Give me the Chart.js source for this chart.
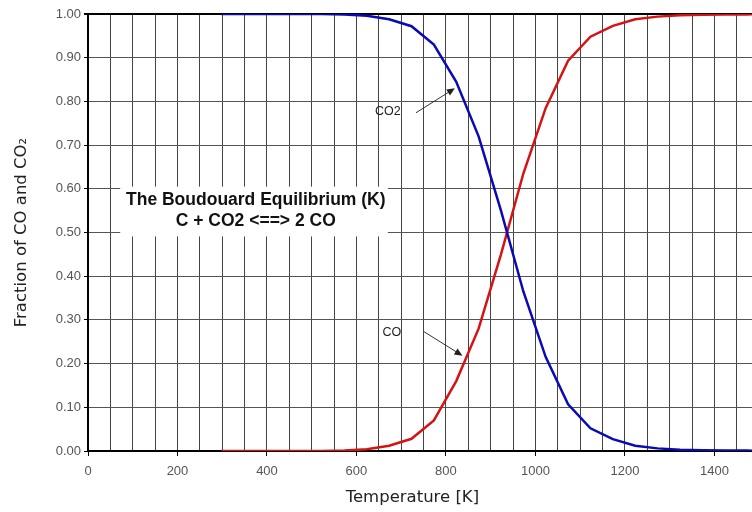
<!DOCTYPE html>
<html>
<head>
<meta charset="utf-8">
<script src="https://cdn.jsdelivr.net/npm/chart.js@4"></script>
<style>
  body { margin: 0; background: #fff; }
  canvas { display: block; }
</style>
</head>
<body>
<canvas id="boudouardChart" width="752" height="512"></canvas>
<script>
// Temperaturas em K (25 °C e depois de 50 em 50 °C)
const temperaturas = [298, 323, 373, 423, 473, 523, 573, 623, 673, 723, 773, 823, 873,
  923, 973, 1023, 1073, 1123, 1173, 1223, 1273, 1323, 1373, 1423, 1473, 1523];

// Fração de CO2 e de CO em equilíbrio
const fracaoCO2 = [1, 1, 1, 1, 1, 1, 0.999, 0.996, 0.988, 0.972, 0.93, 0.845, 0.72,
  0.55, 0.365, 0.215, 0.107, 0.052, 0.027, 0.012, 0.006, 0.003, 0.002, 0.001, 0.001, 0];
const fracaoCO = [0, 0, 0, 0, 0, 0, 0.001, 0.004, 0.012, 0.028, 0.07, 0.16, 0.28,
  0.45, 0.635, 0.785, 0.893, 0.948, 0.973, 0.988, 0.994, 0.997, 0.998, 0.999, 0.999, 1];

const ticksY = [0, 0.1, 0.2, 0.3, 0.4, 0.5, 0.6, 0.7, 0.8, 0.9, 1.0];

const pontos = serie => temperaturas.map((t, i) => ({ x: t, y: serie[i] }));

// seta fina com ponta cheia
function seta(ctx, x0, y0, x1, y1) {
  const ang = Math.atan2(y1 - y0, x1 - x0);
  ctx.strokeStyle = '#333';
  ctx.fillStyle = '#222';
  ctx.lineWidth = 1;
  ctx.beginPath();
  ctx.moveTo(x0, y0);
  ctx.lineTo(x1 - 6 * Math.cos(ang), y1 - 6 * Math.sin(ang));
  ctx.stroke();
  ctx.beginPath();
  ctx.moveTo(x1, y1);
  ctx.lineTo(x1 - 8 * Math.cos(ang) + 3.5 * Math.sin(ang), y1 - 8 * Math.sin(ang) - 3.5 * Math.cos(ang));
  ctx.lineTo(x1 - 8 * Math.cos(ang) - 3.5 * Math.sin(ang), y1 - 8 * Math.sin(ang) + 3.5 * Math.cos(ang));
  ctx.closePath();
  ctx.fill();
}

// caixa com o título, rótulos das curvas e título do eixo x
const anotacoes = {
  id: 'anotacoes',
  afterDraw(chart) {
    const { ctx, scales: { x, y } } = chart;
    ctx.save();

    const bx1 = x.getPixelForValue(72), bx2 = x.getPixelForValue(670);
    const by1 = y.getPixelForValue(0.605), by2 = y.getPixelForValue(0.491);
    ctx.fillStyle = '#fff';
    ctx.fillRect(bx1, by1, bx2 - bx1, by2 - by1);

    ctx.fillStyle = '#111';
    ctx.font = 'bold 17.5px "Liberation Sans"';
    ctx.textAlign = 'center';
    ctx.textBaseline = 'middle';
    const cx = x.getPixelForValue(375);
    ctx.fillText('The Boudouard Equilibrium (K)', cx, y.getPixelForValue(0.574));
    ctx.fillText('C + CO2 <==> 2 CO', cx, y.getPixelForValue(0.526));

    ctx.font = '12.5px "Liberation Sans"';
    ctx.fillStyle = '#222';
    ctx.fillText('CO2', x.getPixelForValue(670), y.getPixelForValue(0.777));
    seta(ctx, x.getPixelForValue(733), y.getPixelForValue(0.774), x.getPixelForValue(820), y.getPixelForValue(0.83));

    ctx.fillText('CO', x.getPixelForValue(679), y.getPixelForValue(0.27));
    seta(ctx, x.getPixelForValue(751), y.getPixelForValue(0.273), x.getPixelForValue(837), y.getPixelForValue(0.218));

    // título do eixo x, centrado em 725 K
    ctx.font = '16.5px "DejaVu Sans"';
    ctx.fillText('Temperature [K]', x.getPixelForValue(725), 498);

    ctx.restore();
  }
};

const ctx = document.getElementById('boudouardChart').getContext('2d');
new Chart(ctx, {
  type: 'line',
  data: {
    datasets: [
      {
        label: 'CO2',
        data: pontos(fracaoCO2),
        borderColor: '#0a0ab4',
        borderWidth: 2.5,
        pointRadius: 0,
        tension: 0
      },
      {
        label: 'CO',
        data: pontos(fracaoCO),
        borderColor: '#d41414',
        borderWidth: 2.5,
        pointRadius: 0,
        tension: 0
      }
    ]
  },
  options: {
    responsive: false,
    animation: false,
    devicePixelRatio: 1,
    layout: { padding: { top: 14, right: 0, left: 0, bottom: 0 } },
    plugins: {
      legend: { display: false },
      tooltip: { enabled: false }
    },
    scales: {
      x: {
        type: 'linear',
        min: 0,
        max: 1484,
        ticks: {
          stepSize: 50,
          includeBounds: false,
          autoSkip: false,
          maxRotation: 0,
          padding: 8,
          color: '#555',
          font: { family: 'Liberation Sans', size: 13 },
          callback: v => (v % 200 === 0 ? v : '')
        },
        grid: {
          color: '#444',
          lineWidth: 1,
          tickLength: 5,
          tickColor: c => (c.tick && c.tick.value % 200 === 0 ? '#000' : 'rgba(0,0,0,0)')
        },
        border: { color: '#000', width: 2 },
        afterFit: s => { s.height = 61; }
      },
      y: {
        min: 0,
        max: 1,
        afterBuildTicks: s => { s.ticks = ticksY.map(v => ({ value: v })); },
        ticks: {
          padding: 3,
          color: '#555',
          font: { family: 'Liberation Sans', size: 13 },
          callback: v => v.toFixed(2)
        },
        grid: {
          color: c => (c.tick && Math.abs(c.tick.value - 1) < 1e-6 ? '#000' : '#555'),
          lineWidth: c => (c.tick && Math.abs(c.tick.value - 1) < 1e-6 ? 2 : 1),
          tickLength: 4,
          tickColor: '#000'
        },
        border: { color: '#000', width: 2 },
        title: {
          display: true,
          text: 'Fraction of CO and CO₂',
          color: '#222',
          font: { family: 'DejaVu Sans', size: 16.5 },
          padding: { top: 12, bottom: 0 }
        },
        afterFit: s => { s.width = 88; }
      }
    }
  },
  plugins: [anotacoes]
});
</script>
</body>
</html>
